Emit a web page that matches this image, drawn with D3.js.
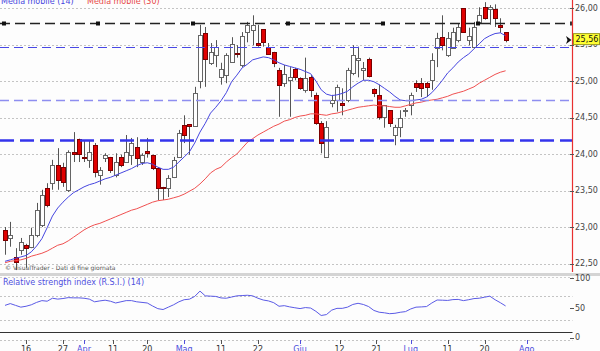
<!DOCTYPE html>
<html><head><meta charset="utf-8">
<script src="https://cdn.jsdelivr.net/npm/d3@7"></script>
<style>body{margin:0;background:#fdfdfd}svg{display:block}text{font-family:"DejaVu Sans",sans-serif}</style>
</head><body><svg id="c" width="600" height="351"></svg>
<script>
// ---- data (one entry per trading day) ----
const open  = [22.96,22.85,22.59,22.68,22.75,22.73,22.89,23.03,23.53,23.60,23.85,23.82,23.51,24.03,24.21,23.96,23.92,24.12,23.71,23.95,23.96,23.71,23.96,23.89,23.99,24.10,23.89,24.04,23.99,23.81,23.55,23.53,23.68,23.96,24.40,24.41,24.38,25.00,25.66,25.25,25.36,25.05,25.08,25.26,25.39,25.22,25.67,25.70,25.52,25.71,25.47,25.40,25.15,24.97,25.01,25.16,25.04,24.88,25.05,24.81,24.42,23.96,24.70,24.74,24.70,24.74,25.11,25.29,25.15,25.30,24.89,24.81,24.51,24.60,24.26,24.37,24.59,24.67,24.97,24.97,24.97,25.01,25.45,25.60,25.36,25.45,25.56,26.00,25.56,25.47,25.81,26.01,25.99,25.99,25.77,25.67];
const high  = [23.00,23.07,22.71,22.85,22.77,22.99,23.33,23.51,23.60,23.92,24.08,23.88,24.05,24.30,24.21,24.19,24.19,24.15,23.82,24.01,23.96,24.01,23.99,24.26,24.22,24.23,24.01,24.22,23.99,23.82,23.55,23.71,23.96,24.33,24.53,24.41,24.92,25.77,25.74,25.52,25.56,25.25,25.38,25.60,25.49,25.67,25.81,25.90,25.77,25.71,25.52,25.40,25.18,25.22,25.19,25.18,25.05,25.32,25.08,24.84,24.45,24.45,24.81,24.95,24.90,25.18,25.49,25.47,25.26,25.32,24.90,24.95,24.67,24.60,24.40,24.60,24.63,24.84,25.01,25.04,24.99,25.38,25.66,25.90,25.67,25.73,25.79,26.00,25.73,25.81,26.01,26.08,26.04,26.05,25.86,25.67];
const low   = [22.62,22.73,22.41,22.62,22.44,22.71,22.86,23.00,23.27,23.51,23.51,23.55,23.48,23.89,23.89,23.89,23.81,23.68,23.58,23.89,23.74,23.68,23.82,23.88,23.85,23.82,23.85,23.95,23.78,23.37,23.37,23.41,23.67,23.95,24.15,23.99,24.37,24.90,24.92,25.22,25.19,24.95,24.97,25.25,25.32,25.19,25.53,25.49,25.47,25.47,25.36,25.19,24.51,24.92,24.51,25.01,24.88,24.84,24.78,24.40,24.01,23.96,24.64,24.58,24.53,24.71,25.08,25.05,25.01,25.05,24.78,24.47,24.36,24.37,24.12,24.23,24.51,24.53,24.85,24.78,24.78,24.88,25.19,25.42,25.33,25.44,25.53,25.66,25.49,25.45,25.78,25.84,25.77,25.74,25.66,25.53];
const close = [22.82,22.89,22.52,22.80,22.71,22.89,23.23,23.44,23.30,23.85,23.64,23.62,24.03,24.00,24.00,23.95,24.03,23.75,23.78,23.99,23.78,23.89,23.85,24.03,24.15,23.95,23.99,24.01,23.81,23.53,23.53,23.67,23.92,24.29,24.26,24.38,24.84,25.63,25.30,25.40,25.47,25.16,25.36,25.51,25.37,25.62,25.77,25.77,25.49,25.53,25.37,25.25,24.95,25.10,25.05,25.05,24.90,25.04,24.88,24.42,24.15,24.37,24.74,24.92,24.67,25.15,25.36,25.32,25.18,25.07,24.84,24.51,24.67,24.42,24.37,24.49,24.60,24.81,24.92,24.90,24.92,25.29,25.59,25.49,25.59,25.67,25.74,25.67,25.62,25.74,25.90,25.86,26.01,25.86,25.74,25.56];
const ma14  = [22.53,22.55,22.57,22.59,22.61,22.66,22.74,22.84,22.99,23.15,23.26,23.34,23.41,23.47,23.51,23.55,23.58,23.60,23.63,23.66,23.68,23.71,23.74,23.77,23.80,23.84,23.87,23.88,23.86,23.82,23.79,23.79,23.82,23.89,23.96,24.03,24.15,24.30,24.42,24.56,24.64,24.73,24.84,24.99,25.08,25.18,25.23,25.29,25.31,25.33,25.32,25.29,25.25,25.22,25.20,25.18,25.16,25.13,25.10,25.00,24.88,24.82,24.80,24.81,24.83,24.86,24.92,24.97,25.01,25.01,24.99,24.95,24.90,24.85,24.79,24.74,24.73,24.73,24.74,24.75,24.78,24.84,24.92,25.01,25.11,25.18,25.26,25.32,25.37,25.44,25.51,25.58,25.62,25.65,25.66,25.62];
const ma30  = [22.51,22.53,22.54,22.55,22.57,22.60,22.62,22.64,22.67,22.71,22.75,22.77,22.81,22.86,22.91,22.96,23.00,23.03,23.05,23.08,23.11,23.14,23.17,23.20,23.23,23.25,23.28,23.31,23.34,23.36,23.37,23.38,23.40,23.42,23.45,23.49,23.53,23.59,23.66,23.74,23.79,23.82,23.89,23.95,24.00,24.08,24.16,24.21,24.26,24.30,24.34,24.38,24.41,24.45,24.47,24.50,24.52,24.53,24.55,24.55,24.54,24.53,24.55,24.56,24.58,24.60,24.62,24.64,24.65,24.66,24.67,24.66,24.66,24.65,24.64,24.64,24.66,24.68,24.70,24.71,24.73,24.74,24.75,24.77,24.79,24.82,24.84,24.86,24.89,24.92,24.97,25.01,25.05,25.09,25.12,25.14];
const rsi   = [54,57,54,51,52.5,55,59,62,61,66,64.5,65.5,67,66.6,66.6,66,64.5,60,61.5,62.7,61,58,60,62,62,60,59,58,53,48.5,47,51,55,60,63.5,64.4,69,78,70,69.5,69,66.5,66,68,70,70.5,71,70,66,63,61.5,58.5,52.5,53.5,51.5,50,48.6,50.3,49.5,44,37,38.5,46,49,49,51,55.5,57.5,55.5,52,45.5,42.5,41.5,40,40.7,42.4,43.5,48,51,51.4,52,58,63,62.7,62.3,63.7,64,62,63.5,65.4,66,67.7,69.5,63.5,58.5,53];

const tickIdx    = [4,11,15,20.5,27,34,41,48,56,63.5,70.5,77,84,91,99];
const tickLabels = ["16","27","Apr","11","20","Mag","11","22","Giu","12","21","Lug","11","20","Ago"];
const monthTick  = [false,false,true,false,false,true,false,false,true,false,false,true,false,false,true];
const priceTicks = [22.5,23,23.5,24,24.5,25,25.5,26];
const rsiTicks   = [0,50,100];
const rsiGrid    = [70,30];
const rsiRefLine = 10;
const levelBlack = 25.795, levelBlue = 25.46, levelLav = 24.74, levelThick = 24.195;
const blackMarkerIdx = [-0.2,17.6,35.6,53.8,71.8,89.8];
const lastPrice = 25.56;

// ---- drawing ----
const svg = d3.select("#c");
const W = 600, H = 351, axisX = 572.5;
const x  = d3.scaleLinear().domain([0, 95]).range([5, 505.6]);
const y  = d3.scaleLinear().domain([22.5, 26]).range([263.5, 8]);
const yr = d3.scaleLinear().domain([0, 100]).range([337.5, 278]);
const fmt = v => d3.format(".2f")(v).replace(".", ",");
const py = v => Math.round(v) + 0.5;

svg.append("rect").attr("width", W).attr("height", H).attr("fill", "#fdfdfd");

// price grid
svg.append("g").selectAll("line").data(priceTicks).join("line")
  .attr("x1", 0).attr("x2", axisX).attr("y1", d => py(y(d))).attr("y2", d => py(y(d)))
  .attr("stroke", "#c4c4c4").attr("stroke-dasharray", "2,2");

// candles
const n = close.length;
const cg = svg.append("g");
d3.range(n).forEach(i => {
  const cx = Math.round(x(i));
  const up = close[i] >= open[i];
  cg.append("line").attr("x1", cx + 0.5).attr("x2", cx + 0.5)
    .attr("y1", y(high[i])).attr("y2", y(low[i])).attr("stroke", "#555");
  const top = Math.round(y(Math.max(open[i], close[i])));
  const bot = Math.round(y(Math.min(open[i], close[i])));
  cg.append("rect").attr("x", cx - 1.5).attr("y", top + 0.5)
    .attr("width", 4).attr("height", Math.max(0.01, bot - top))
    .attr("fill", up ? "#ffffff" : "#e00000")
    .attr("stroke", up ? "#666" : "#7a0000");
});

// moving averages
const line = d3.line().x((d, i) => x(i)).y(d => y(d));
svg.append("path").datum(ma30).attr("d", line).attr("fill", "none").attr("stroke", "#f05050").attr("stroke-width", 1);
svg.append("path").datum(ma14).attr("d", line).attr("fill", "none").attr("stroke", "#4646e0").attr("stroke-width", 1);

// horizontal levels
const hl = (v, color, w, dash) => svg.append("line").attr("x1", 0).attr("x2", axisX)
  .attr("y1", py(y(v))).attr("y2", py(y(v))).attr("stroke", color).attr("stroke-width", w).attr("stroke-dasharray", dash);
hl(levelLav, "#8e8ef0", 1.5, "9,5");
hl(levelBlue, "#4848e6", 1, "9,5");
hl(levelThick, "#3434ec", 2.5, "14,6");
hl(levelBlack, "#222", 1.5, "10,5");
svg.append("g").selectAll("rect").data(blackMarkerIdx).join("rect")
  .attr("x", d => Math.round(x(d)) - 2).attr("y", Math.round(y(levelBlack)) - 1.5)
  .attr("width", 4).attr("height", 4).attr("fill", "#111");
svg.append("rect").attr("x", axisX - 2.5).attr("y", Math.round(y(levelBlack)) - 1.5).attr("width", 3).attr("height", 4).attr("fill", "#333");

// right axis
svg.append("line").attr("x1", axisX).attr("x2", axisX).attr("y1", 0).attr("y2", 272).attr("stroke", "#e83030").attr("stroke-width", 1.2);
const pa = svg.append("g").selectAll("g").data(priceTicks).join("g");
pa.append("line").attr("x1", 570).attr("x2", 574).attr("y1", d => py(y(d))).attr("y2", d => py(y(d))).attr("stroke", "#555");
pa.append("text").attr("x", 575).attr("y", d => y(d)).attr("dy", "0.36em").attr("font-size", 8).attr("fill", "#444").text(fmt);

// last price marker
const ly = y(lastPrice);
svg.append("path").attr("d", `M566,${ly-4}L571.5,${ly}L566,${ly+4}L567.5,${ly}Z`).attr("fill", "#111");
svg.append("rect").attr("x", 573.5).attr("y", ly - 6.5).attr("width", 26).attr("height", 11).attr("fill", "#ffff33").attr("stroke", "#9a9a20");
svg.append("text").attr("x", 575.5).attr("y", ly - 1).attr("dy", "0.36em").attr("font-size", 8).attr("fill", "#111").text(fmt(lastPrice));

// legend
svg.append("text").attr("x", 1).attr("y", 3.5).attr("font-size", 8).attr("fill", "#4646e0").text("Media mobile (14)");
svg.append("text").attr("x", 87).attr("y", 3.5).attr("font-size", 8).attr("fill", "#e84848").text("Media mobile (30)");

// copyright
svg.append("text").attr("x", 5).attr("y", 270).attr("font-size", 6).attr("fill", "#555").text("\u00a9 VisualTrader - Dati di fine giornata");

// panel separator
svg.append("rect").attr("x", 0).attr("y", 273).attr("width", W).attr("height", 3).attr("fill", "#d4d4d4");
svg.append("line").attr("x1", 0).attr("x2", axisX).attr("y1", 277.5).attr("y2", 277.5).attr("stroke", "#d0d0d0").attr("stroke-dasharray", "2,2");

// RSI panel
svg.append("text").attr("x", 3).attr("y", 285).attr("font-size", 8).attr("fill", "#5050dd").text("Relative strength index (R.S.I.) (14)");
svg.append("g").selectAll("line").data(rsiGrid).join("line")
  .attr("x1", 0).attr("x2", axisX).attr("y1", d => py(yr(d))).attr("y2", d => py(yr(d)))
  .attr("stroke", "#c4c4c4").attr("stroke-dasharray", "2,2");
svg.append("line").attr("x1", 0).attr("x2", axisX).attr("y1", py(yr(rsiRefLine))).attr("y2", py(yr(rsiRefLine))).attr("stroke", "#333").attr("stroke-width", 1);
svg.append("line").attr("x1", 0).attr("x2", axisX).attr("y1", 340.5).attr("y2", 340.5).attr("stroke", "#c4c4c4").attr("stroke-dasharray", "2,2");
const rline = d3.line().x((d, i) => x(i)).y(d => yr(d));
svg.append("path").datum(rsi).attr("d", rline).attr("fill", "none").attr("stroke", "#5a5ae6").attr("stroke-width", 1);
const ra = svg.append("g").selectAll("g").data(rsiTicks).join("g");
ra.append("line").attr("x1", 570).attr("x2", 574).attr("y1", d => py(yr(d))).attr("y2", d => py(yr(d))).attr("stroke", "#555");
ra.append("text").attr("x", 575).attr("y", d => yr(d)).attr("dy", "0.36em").attr("font-size", 8).attr("fill", "#444").text(d => d);

// x axis
const xa = svg.append("g").selectAll("g").data(tickIdx).join("g");
xa.append("line").attr("x1", d => Math.round(x(d)) + 0.5).attr("x2", d => Math.round(x(d)) + 0.5)
  .attr("y1", 340).attr("y2", 344).attr("stroke", (d, i) => monthTick[i] ? "#5050dd" : "#555");
xa.append("text").attr("x", d => x(d)).attr("y", 352).attr("text-anchor", "middle").attr("font-size", 8)
  .attr("fill", (d, i) => monthTick[i] ? "#4c4cdc" : "#333").text((d, i) => tickLabels[i]);
</script></body></html>
